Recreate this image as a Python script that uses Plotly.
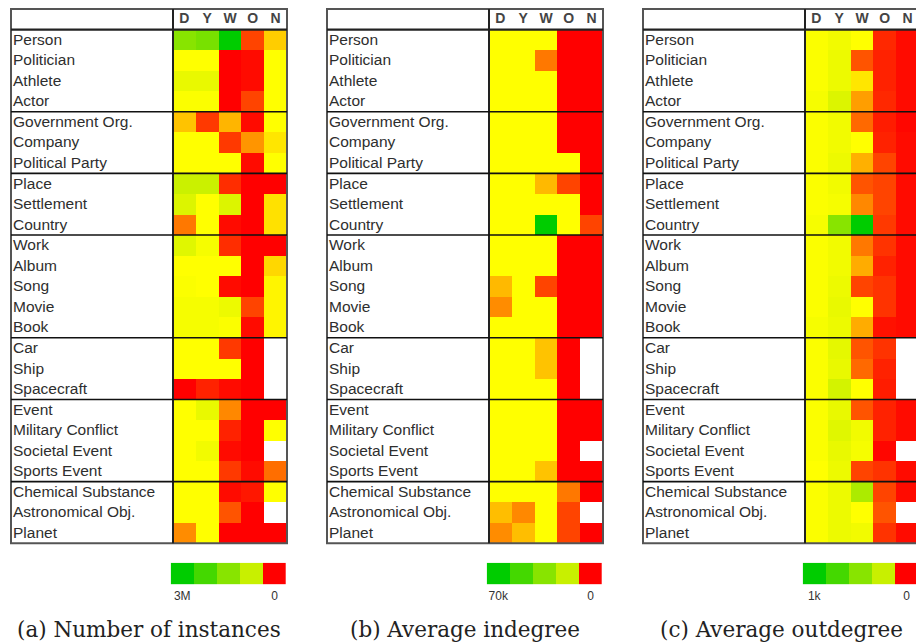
import plotly.graph_objects as go

# ---------------- data ----------------
CATEGORIES = [
    "Person", "Politician", "Athlete", "Actor",
    "Government Org.", "Company", "Political Party",
    "Place", "Settlement", "Country",
    "Work", "Album", "Song", "Movie", "Book",
    "Car", "Ship", "Spacecraft",
    "Event", "Military Conflict", "Societal Event", "Sports Event",
    "Chemical Substance", "Astronomical Obj.", "Planet",
]
GROUP_SIZES = [4, 3, 3, 5, 3, 4, 3]
COLUMNS = ["D", "Y", "W", "O", "N"]

# relative level on the colour scale (0 = red / "0", 1 = green / max), None = no data
INSTANCES_LEVEL = [
    [0.75, 0.78, 1.00, 0.12, 0.40],
    [0.50, 0.50, 0.00, 0.02, 0.50],
    [0.55, 0.55, 0.00, 0.02, 0.50],
    [0.51, 0.51, 0.00, 0.12, 0.50],
    [0.38, 0.10, 0.35, 0.02, 0.50],
    [0.50, 0.50, 0.10, 0.28, 0.45],
    [0.50, 0.50, 0.50, 0.02, 0.50],
    [0.62, 0.62, 0.08, 0.00, 0.00],
    [0.58, 0.50, 0.58, 0.00, 0.44],
    [0.22, 0.50, 0.02, 0.00, 0.44],
    [0.57, 0.52, 0.08, 0.00, 0.00],
    [0.50, 0.50, 0.50, 0.00, 0.42],
    [0.51, 0.50, 0.02, 0.00, 0.48],
    [0.52, 0.52, 0.54, 0.12, 0.48],
    [0.52, 0.52, 0.51, 0.02, 0.48],
    [0.50, 0.50, 0.10, 0.00, None],
    [0.50, 0.50, 0.50, 0.00, None],
    [0.00, 0.06, 0.02, 0.00, None],
    [0.50, 0.55, 0.25, 0.00, 0.00],
    [0.50, 0.50, 0.06, 0.00, 0.50],
    [0.50, 0.53, 0.02, 0.00, None],
    [0.50, 0.50, 0.10, 0.02, 0.20],
    [0.50, 0.50, 0.02, 0.04, 0.50],
    [0.50, 0.50, 0.15, 0.00, None],
    [0.26, 0.50, 0.00, 0.00, 0.00],
]
INDEGREE_LEVEL = [
    [0.50, 0.50, 0.50, 0.00, 0.00],
    [0.50, 0.50, 0.22, 0.00, 0.00],
    [0.50, 0.50, 0.50, 0.00, 0.00],
    [0.50, 0.50, 0.50, 0.00, 0.00],
    [0.50, 0.50, 0.50, 0.00, 0.00],
    [0.50, 0.50, 0.50, 0.00, 0.00],
    [0.50, 0.50, 0.50, 0.50, 0.00],
    [0.50, 0.50, 0.36, 0.12, 0.00],
    [0.50, 0.50, 0.50, 0.50, 0.00],
    [0.50, 0.50, 1.00, 0.50, 0.12],
    [0.50, 0.50, 0.50, 0.00, 0.00],
    [0.50, 0.50, 0.50, 0.00, 0.00],
    [0.36, 0.50, 0.12, 0.00, 0.00],
    [0.26, 0.50, 0.50, 0.00, 0.00],
    [0.50, 0.50, 0.50, 0.00, 0.00],
    [0.50, 0.50, 0.38, 0.00, None],
    [0.50, 0.50, 0.38, 0.00, None],
    [0.50, 0.50, 0.50, 0.00, None],
    [0.50, 0.50, 0.50, 0.00, 0.00],
    [0.50, 0.50, 0.50, 0.00, 0.00],
    [0.50, 0.50, 0.50, 0.00, None],
    [0.50, 0.50, 0.38, 0.00, 0.00],
    [0.50, 0.50, 0.50, 0.22, 0.00],
    [0.37, 0.25, 0.50, 0.12, None],
    [0.26, 0.37, 0.50, 0.12, 0.00],
]
OUTDEGREE_LEVEL = [
    [0.51, 0.53, 0.50, 0.07, 0.02],
    [0.51, 0.54, 0.15, 0.06, 0.02],
    [0.51, 0.54, 0.45, 0.06, 0.02],
    [0.52, 0.58, 0.30, 0.07, 0.02],
    [0.51, 0.53, 0.19, 0.05, 0.01],
    [0.51, 0.53, 0.50, 0.06, 0.02],
    [0.51, 0.54, 0.34, 0.12, 0.02],
    [0.51, 0.53, 0.15, 0.12, 0.02],
    [0.51, 0.52, 0.25, 0.12, 0.02],
    [0.52, 0.75, 1.00, 0.10, 0.02],
    [0.51, 0.53, 0.22, 0.09, 0.02],
    [0.51, 0.53, 0.33, 0.06, 0.02],
    [0.51, 0.54, 0.12, 0.09, 0.02],
    [0.51, 0.55, 0.50, 0.09, 0.02],
    [0.52, 0.54, 0.33, 0.03, 0.02],
    [0.51, 0.56, 0.15, 0.09, None],
    [0.51, 0.55, 0.19, 0.06, None],
    [0.51, 0.60, 0.50, 0.05, None],
    [0.51, 0.55, 0.15, 0.06, 0.02],
    [0.51, 0.57, 0.53, 0.06, 0.02],
    [0.51, 0.55, 0.52, 0.01, None],
    [0.50, 0.54, 0.12, 0.09, 0.02],
    [0.51, 0.54, 0.68, 0.12, 0.02],
    [0.51, 0.54, 0.50, 0.15, None],
    [0.51, 0.54, 0.53, 0.09, 0.02],
]
LEGEND_LEVELS = [1.0, 0.875, 0.75, 0.625, 0.0]
LEGEND_TICKS = [["3M", "0"], ["70k", "0"], ["1k", "0"]]
CAPTIONS = ["(a) Number of instances", "(b) Average indegree", "(c) Average outdegree"]

PANELS = [INSTANCES_LEVEL, INDEGREE_LEVEL, OUTDEGREE_LEVEL]

COLORSCALE = [
    [0.0, "#ff0000"], [0.12, "#ff4400"], [0.25, "#ff8800"], [0.375, "#ffc000"],
    [0.5, "#ffff00"], [0.625, "#c8f000"], [0.75, "#88e400"], [0.875, "#44d800"],
    [1.0, "#00cc00"],
]

# ---------------- layout constants (pixels) ----------------
W, H = 916, 643
BOX_LEFT = [11, 327, 643]
LABEL_W = 162
COL_W = 22.8
ROW_H = 20.55
BOX_TOP = 9
PAD = 3
LEG_LEFT = [170.7, 486.7, 802.7]
LEG_W = 115.3
LEG_TOP, LEG_BOT = 562.7, 584.3
CAPTION_Y = 629

n_rows = len(CATEGORIES)
n_cols = len(COLUMNS)
label_units = LABEL_W / COL_W
x_box0 = -0.5 - label_units
x_box1 = n_cols - 0.5
y_top = -1.5
y_bot = n_rows - 0.5
box_h_px = (y_bot - y_top) * ROW_H

# group boundaries
bounds = []
acc = 0
for g in GROUP_SIZES[:-1]:
    acc += g
    bounds.append(acc - 0.5)

fig = go.Figure()
shapes = []
annotations = []
layout_axes = {}

for p, levels in enumerate(PANELS):
    i = p + 1
    xa = "x" if i == 1 else f"x{i}"
    ya = "y" if i == 1 else f"y{i}"
    # table axis
    left_px = BOX_LEFT[p] - PAD
    right_px = min(BOX_LEFT[p] + LABEL_W + n_cols * COL_W + PAD, W)
    dom_x = [left_px / W, right_px / W]
    xr = [x_box0 - PAD / COL_W, x_box0 + (right_px - BOX_LEFT[p]) / COL_W]
    top_px = BOX_TOP - PAD
    bot_px = BOX_TOP + box_h_px + PAD
    dom_y = [1 - bot_px / H, 1 - top_px / H]
    yr = [y_bot + PAD / ROW_H, y_top - PAD / ROW_H]

    fig.add_trace(go.Heatmap(
        z=levels, x=list(range(n_cols)), y=list(range(n_rows)),
        colorscale=COLORSCALE, zmin=0, zmax=1, showscale=False,
        hoverinfo="skip", xaxis=xa, yaxis=ya,
    ))
    fig.add_trace(go.Scatter(
        x=[x_box0 + 2 / COL_W] * n_rows, y=[r + 0.05 for r in range(n_rows)],
        text=CATEGORIES,
        mode="text", textposition="middle right",
        textfont=dict(family="Liberation Sans, Arial", size=15.5, color="#2e2e2e"),
        hoverinfo="skip", showlegend=False, xaxis=xa, yaxis=ya,
    ))
    fig.add_trace(go.Scatter(
        x=list(range(n_cols)), y=[-1] * n_cols, text=COLUMNS,
        mode="text", textposition="middle center",
        textfont=dict(family="Liberation Sans, Arial", size=14, color="#444444",
                      weight="bold"),
        hoverinfo="skip", showlegend=False, xaxis=xa, yaxis=ya,
    ))

    axkey = "xaxis" if i == 1 else f"xaxis{i}"
    aykey = "yaxis" if i == 1 else f"yaxis{i}"
    layout_axes[axkey] = dict(domain=dom_x, range=xr, visible=False, fixedrange=True,
                              anchor=ya)
    layout_axes[aykey] = dict(domain=dom_y, range=yr, visible=False, fixedrange=True,
                              anchor=xa)

    # table lines
    shapes.append(dict(type="rect", xref=xa, yref=ya, x0=x_box0, x1=x_box1,
                       y0=y_top, y1=y_bot, line=dict(color="#555555", width=2)))
    shapes.append(dict(type="line", xref=xa, yref=ya, x0=x_box0, x1=x_box1,
                       y0=-0.5, y1=-0.5, line=dict(color="#222222", width=2.2)))
    shapes.append(dict(type="line", xref=xa, yref=ya, x0=-0.5, x1=-0.5,
                       y0=y_top, y1=y_bot, line=dict(color="#222222", width=2)))
    for b in bounds:
        shapes.append(dict(type="line", xref=xa, yref=ya, x0=x_box0, x1=x_box1,
                           y0=b, y1=b, line=dict(color="#111111", width=1.6)))

    # legend swatches
    j = i + 3
    lxa = f"x{j}"
    lya = f"y{j}"
    leg_right = min(LEG_LEFT[p] + LEG_W, W)
    sw = LEG_W / len(LEGEND_LEVELS)
    fig.add_trace(go.Heatmap(
        z=[LEGEND_LEVELS], x=list(range(len(LEGEND_LEVELS))), y=[0],
        colorscale=COLORSCALE, zmin=0, zmax=1, showscale=False,
        hoverinfo="skip", xaxis=lxa, yaxis=lya,
    ))
    layout_axes[f"xaxis{j}"] = dict(
        domain=[LEG_LEFT[p] / W, leg_right / W],
        range=[-0.5, -0.5 + (leg_right - LEG_LEFT[p]) / sw],
        showgrid=False, zeroline=False, showline=False, ticks="",
        tickvals=[0, len(LEGEND_LEVELS) - 1], ticktext=LEGEND_TICKS[p],
        tickfont=dict(family="Liberation Sans, Arial", size=12, color="#333333"),
        ticklabelstandoff=3,
        fixedrange=True, anchor=lya,
    )
    layout_axes[f"yaxis{j}"] = dict(
        domain=[1 - LEG_BOT / H, 1 - LEG_TOP / H], range=[-0.5, 0.5],
        visible=False, fixedrange=True, anchor=lxa,
    )

    # caption
    box_center = BOX_LEFT[p] + (LABEL_W + n_cols * COL_W) / 2
    annotations.append(dict(
        text=CAPTIONS[p], xref="paper", yref="paper",
        x=box_center / W, y=1 - CAPTION_Y / H, xanchor="center", yanchor="middle",
        showarrow=False,
        font=dict(family="DejaVu Serif", size=21.5, color="#222222"),
    ))

fig.update_layout(
    width=W, height=H, margin=dict(l=0, r=0, t=0, b=0),
    paper_bgcolor="white", plot_bgcolor="rgba(0,0,0,0)",
    showlegend=False, shapes=shapes, annotations=annotations,
    **layout_axes,
)

fig.write_html(
    "out.html",
    config={"displayModeBar": False},
    post_script="document.body.style.margin='0';document.body.style.overflow='hidden';",
)
